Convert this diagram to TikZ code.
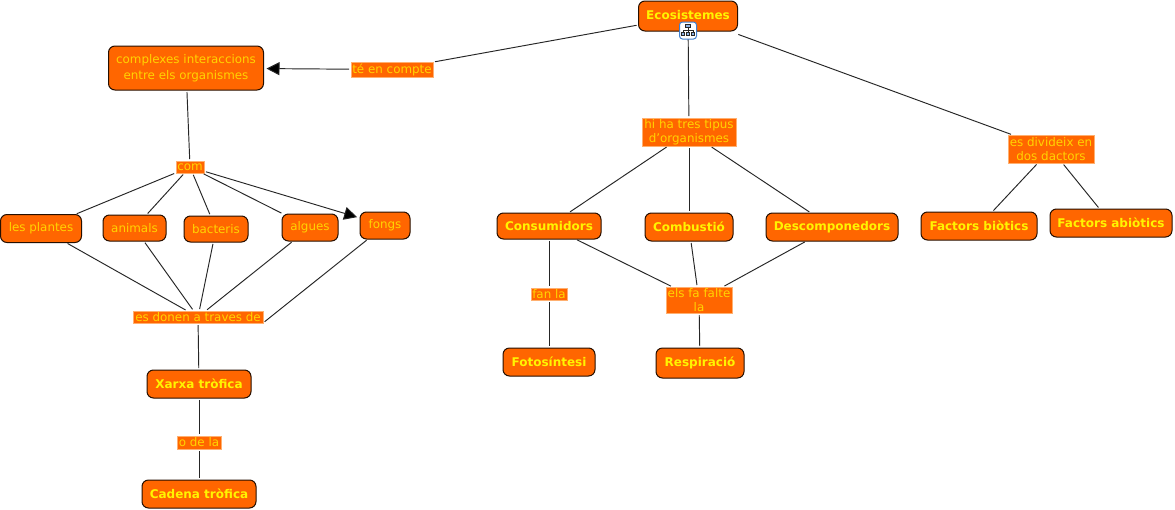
\documentclass[tikz,border=0pt]{standalone}
\usepackage{fontspec}
\setmainfont{DejaVu Sans}
\usetikzlibrary{arrows.meta}
\definecolor{orangefill}{HTML}{FF6600}
\definecolor{labeltext}{HTML}{FFD400}
\definecolor{boldtext}{HTML}{FFF400}
\definecolor{labelrim}{HTML}{FFB070}
\definecolor{iconblue}{HTML}{3F7FD0}
\tikzset{
  x=1pt,y=-1pt,
  concept/.style={draw=black!85!orangefill,fill=orangefill,rounded corners=6.5pt,line width=1pt,
    inner sep=0pt,outer sep=0pt,align=center,font=\fontsize{11.9}{15.5}\selectfont,text=labeltext},
  keyconcept/.style={concept,font=\fontsize{12}{16}\selectfont\bfseries,text=boldtext},
  linkword/.style={draw=labelrim,line width=0.5pt,fill=orangefill,inner sep=0pt,outer sep=0pt,align=center,
    font=\fontsize{11.9}{14.5}\selectfont,text=labeltext},
  link/.style={draw=black!85,line width=0.95pt,shorten >=2pt,shorten <=2pt},
  arrowlink/.style={link,shorten >=3pt,-{Triangle[length=13pt,width=13pt,fill=black]}},
  iconbox/.style={draw=iconblue,fill=white,rounded corners=3pt,line width=1pt,minimum width=17pt,minimum height=17pt,inner sep=0pt}
}
\newcommand{\cbox}[6][concept]{\node[#1,minimum width=#5pt,minimum height=#6pt] (#2) at (#3,#4)}
\begin{document}
\begin{tikzpicture}
\useasboundingbox (0,0) rectangle (1175,509);
\fill[white] (0,0) rectangle (1175,509);
\cbox[keyconcept]{eco}{688}{16}{99}{30} {\raisebox{2pt}{Ecosistemes}};
\cbox{complexes}{186}{68}{155}{44} {complexes interaccions\\entre els organismes};
\cbox[linkword]{compte}{392}{69.5}{82}{15} {té en compte};
\cbox[linkword]{com}{190}{167}{28}{12} {com};
\cbox{plantes}{41}{228.5}{81}{28} {les plantes};
\cbox{animals}{134.5}{228}{63}{26} {animals};
\cbox{bacteris}{216}{229}{64}{26} {bacteris};
\cbox{algues}{310}{227.5}{56}{27} {algues};
\cbox{fongs}{385}{225.5}{50}{27} {fongs};
\cbox[linkword]{donen}{198}{317}{130}{12} {es donen a traves de};
\cbox[keyconcept]{xarxa}{199}{384}{104}{28} {Xarxa tròfica};
\cbox[linkword]{ode}{199}{442.5}{44}{13} {o de la};
\cbox[keyconcept]{cadena}{199}{494}{114}{28} {Cadena tròfica};
\cbox[linkword]{tipus}{689}{132}{94}{28} {hi ha tres tipus\\d'organismes};
\cbox[keyconcept]{consum}{549}{226}{104}{26} {Consumidors};
\cbox[keyconcept]{combust}{689}{227}{88}{28} {Combustió};
\cbox[keyconcept]{descomp}{832}{227}{132}{28} {Descomponedors};
\cbox[linkword]{fan}{549}{294}{36}{12} {fan la};
\cbox[linkword]{falte}{699}{300}{66}{26} {els fa falte\\la};
\cbox[keyconcept]{foto}{549}{362}{92}{28} {Fotosíntesi};
\cbox[keyconcept]{resp}{700}{363}{88}{30} {Respiració};
\cbox[linkword]{divid}{1051}{149}{86}{28} {es divideix en\\dos dactors};
\cbox[keyconcept]{biot}{979}{226}{116}{28} {Factors biòtics};
\cbox[keyconcept]{abiot}{1111}{223}{122}{28} {Factors abiòtics};

\draw[link] (eco) -- (compte);
\draw[arrowlink] (compte) -- (complexes);
\draw[link] (complexes) -- (com);
\draw[link] (com) -- (plantes);
\draw[link] (com) -- (animals);
\draw[link] (com) -- (bacteris);
\draw[link] (com) -- (algues);
\draw[arrowlink] (com) -- (fongs);
\draw[link] (plantes) -- (donen);
\draw[link] (animals) -- (donen);
\draw[link] (bacteris) -- (donen);
\draw[link] (algues) -- (donen);
\draw[link] (fongs) -- (donen.south east);
\draw[link] (donen) -- (xarxa);
\draw[link] (xarxa) -- (ode);
\draw[link] (ode) -- (cadena);
\draw[link] (eco) -- (tipus);
\draw[link,shorten <=10pt] (eco) -- (divid);
\draw[link] (tipus) -- (consum);
\draw[link] (tipus) -- (combust);
\draw[link] (tipus) -- (descomp);
\draw[link] (consum) -- (fan);
\draw[link] (fan) -- (foto);
\draw[link] (consum) -- (falte);
\draw[link] (combust) -- (falte);
\draw[link] (descomp) -- (falte);
\draw[link] (falte) -- (resp);
\draw[link] (divid) -- (biot);
\draw[link] (divid) -- (abiot);

\node[iconbox] (icon) at (688,30.5) {};
\begin{scope}[line width=0.6pt,draw=black!85]
  \draw[fill=iconblue!60] (685.5,24.5) rectangle (690.5,27.5);
  \draw[fill=iconblue!60] (681.5,32.5) rectangle (684.5,35.5);
  \draw[fill=iconblue!60] (691.5,32.5) rectangle (694.5,35.5);
  \draw[fill=iconblue!60] (686.5,32.5) rectangle (689.5,35.5);
  \draw (688,27.5) -- (688,32.5) (683,32.5) -- (683,30) -- (693,30) -- (693,32.5);
\end{scope}
\end{tikzpicture}
\end{document}
